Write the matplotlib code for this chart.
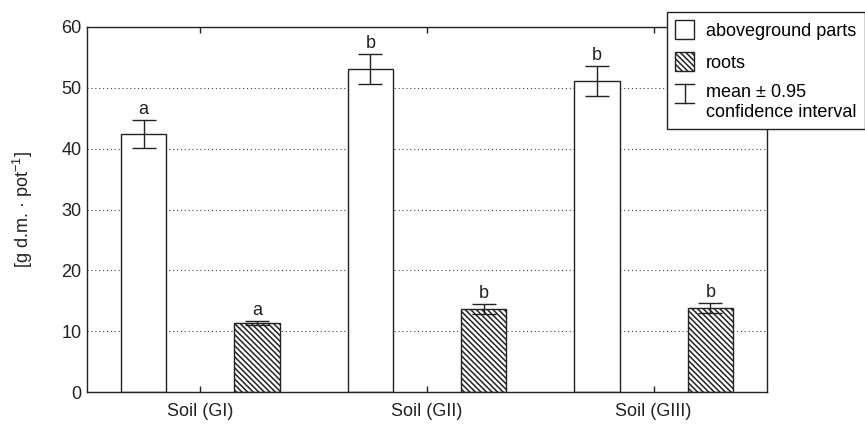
import matplotlib
matplotlib.use('Agg')
import matplotlib.pyplot as plt
import numpy as np
from matplotlib.patches import Patch
from matplotlib.lines import Line2D
from matplotlib.legend_handler import HandlerBase

categories = ['Soil (GI)', 'Soil (GII)', 'Soil (GIII)']
above_mean = [42.4, 53.1, 51.1]
above_ci = [2.3, 2.4, 2.5]
roots_mean = [11.3, 13.6, 13.8]
roots_ci = [0.35, 0.8, 0.85]
above_letters = ['a', 'b', 'b']
roots_letters = ['a', 'b', 'b']
yticks = [0, 10, 20, 30, 40, 50, 60]
legend_labels = ['aboveground parts', 'roots', 'mean ± 0.95\nconfidence interval']

plt.rcParams['font.family'] = ['Liberation Sans', 'DejaVu Sans']
plt.rcParams['mathtext.fontset'] = 'custom'
plt.rcParams['mathtext.rm'] = 'Liberation Sans'
plt.rcParams['mathtext.it'] = 'Liberation Sans'
plt.rcParams['hatch.linewidth'] = 1.1

K = '#222222'
HATCH = '\\\\\\\\\\\\'
FS = 13


class HandlerCI(HandlerBase):
    def create_artists(self, legend, orig_handle, xdescent, ydescent,
                       width, height, fontsize, trans):
        shift = 0.5 * fontsize
        x0 = -xdescent
        y0 = -ydescent + shift
        y1 = y0 + height
        cx = x0 + width / 2
        arts = [
            Line2D([cx, cx], [y0, y1], color=K, lw=1, transform=trans),
            Line2D([x0, x0 + width], [y0, y0], color=K, lw=1, transform=trans),
            Line2D([x0, x0 + width], [y1, y1], color=K, lw=1, transform=trans),
        ]
        return arts


fig = plt.figure(figsize=(8.65, 4.25), dpi=100)
ax = fig.add_axes([0.1006, 0.0776, 0.7861, 0.8589])

x = np.arange(len(categories))
off = 0.25
w = 0.2

ax.bar(x - off, above_mean, width=w, color='white', edgecolor=K, linewidth=1, zorder=2)
ax.bar(x + off, roots_mean, width=w, color='white', edgecolor=K, linewidth=1,
       hatch=HATCH, zorder=2)
eb = ax.errorbar(x - off, above_mean, yerr=above_ci, fmt='none', ecolor=K,
                 elinewidth=1, capsize=8.5, capthick=1, zorder=3)
ax.errorbar(x + off, roots_mean, yerr=roots_ci, fmt='none', ecolor=K,
            elinewidth=1, capsize=8.5, capthick=1, zorder=3)

for xi, m, c, t in zip(x - off, above_mean, above_ci, above_letters):
    ax.annotate(t, (xi, m + c), xytext=(0, 1.5), textcoords='offset points',
                ha='center', va='bottom', fontsize=FS, color=K)
for xi, m, c, t in zip(x + off, roots_mean, roots_ci, roots_letters):
    ax.annotate(t, (xi, m + c), xytext=(0, 1.5), textcoords='offset points',
                ha='center', va='bottom', fontsize=FS, color=K)

ax.set_xlim(-0.5, len(categories) - 0.5)
ax.set_ylim(0, 60)
ax.set_yticks(yticks)
ax.set_xticks(x)
ax.set_xticklabels(categories)
ax.yaxis.grid(True, linestyle=(0, (1, 2.5)), color='#444444', linewidth=0.8, zorder=0)
ax.set_axisbelow(True)

ax.tick_params(axis='x', direction='in', top=True, length=4, width=1, color=K,
               labelsize=FS, pad=8, labelcolor=K)
ax.tick_params(axis='y', length=0, labelsize=FS, pad=4, labelcolor=K)
for s in ax.spines.values():
    s.set_color(K)
    s.set_linewidth(1)

ax.set_ylabel('[g d.m. · pot$^{-1}$]', fontsize=FS, color=K, labelpad=19)

handles = [Patch(facecolor='white', edgecolor=K, linewidth=1),
           Patch(facecolor='white', edgecolor=K, linewidth=1, hatch=HATCH),
           eb]
leg = fig.legend(handles, legend_labels, loc='upper left',
                 bbox_to_anchor=(0.771, 0.972), borderaxespad=0,
                 frameon=True, fancybox=False,
                 edgecolor=K, framealpha=1, fontsize=FS, handlelength=1.05,
                 handleheight=1.27, handletextpad=0.66, labelspacing=0.68,
                 borderpad=0.45, handler_map={type(eb): HandlerCI()})
leg.get_frame().set_linewidth(1)

fig.savefig('out.png', dpi=100)
